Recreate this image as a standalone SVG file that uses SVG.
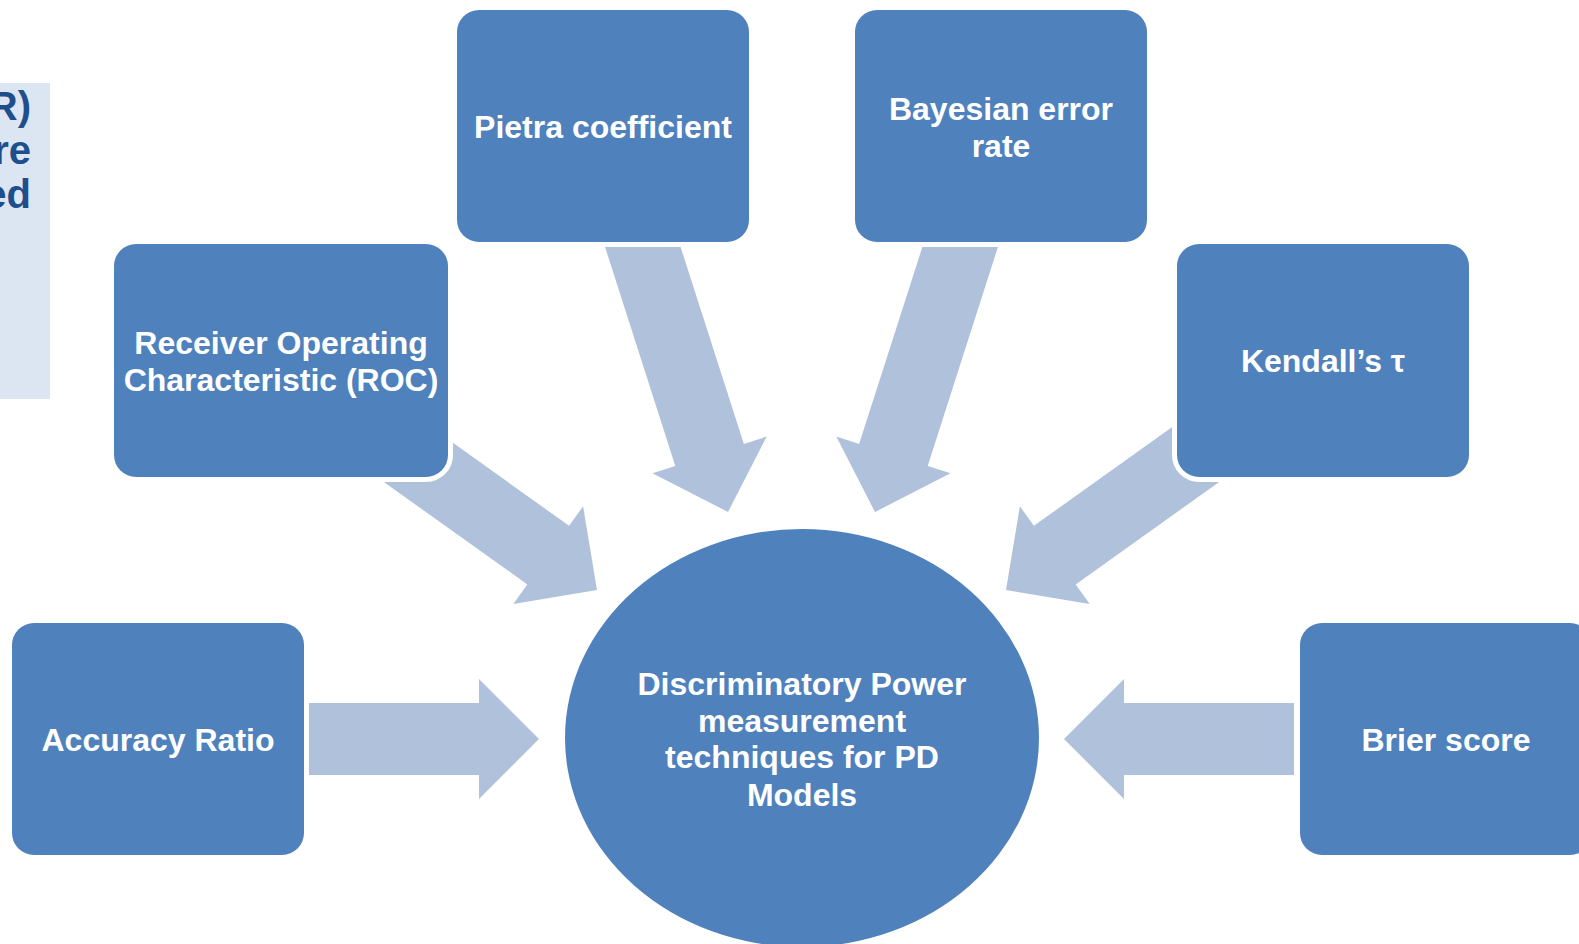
<svg xmlns="http://www.w3.org/2000/svg" width="1579" height="944" viewBox="0 0 1579 944">
<style>
.box{fill:#4F81BD;stroke:#FFFFFF;stroke-width:10;paint-order:stroke}
.lbl{font-family:"Liberation Sans",Arial,sans-serif;font-weight:bold;font-size:32px;fill:#FFFFFF;text-anchor:middle}
.arrow{fill:#B0C1DC}
.side{font-family:"Liberation Sans",Arial,sans-serif;font-weight:bold;font-size:40px;fill:#1F4E8C;text-anchor:end}
</style>
<rect width="1579" height="944" fill="#FFFFFF"/>
<g id="side-panel">
<rect x="0" y="83" width="50" height="316" fill="#DCE6F2"/>
<text class="side" x="31" y="120">R)</text>
<text class="side" x="31" y="164">re</text>
<text class="side" x="31" y="208">ed</text>
</g>
<g id="connectors">
<polygon class="arrow" points="309,703 479,703 479,679 539,739 479,799 479,775 309,775"/>
<polygon class="arrow" points="1294,703 1124,703 1124,679 1064,739 1124,799 1124,775 1294,775"/>
<polygon class="arrow" points="590,200 665.5,200 743.9,443.9 766.7,436.5 728,512 652.5,473.3 675.3,465.9"/>
<polygon class="arrow" points="1013,200 937.5,200 859.1,443.9 836.3,436.5 875,512 950.5,473.3 927.7,465.9"/>
<polygon class="arrow" points="406.3,409.6 569.1,525.8 583.1,506.3 597,590 513.3,603.9 527.3,584.4 364.5,468.2"/>
<polygon class="arrow" points="1196.7,409.6 1033.9,525.8 1019.9,506.3 1006,590 1089.7,603.9 1075.7,584.4 1238.5,468.2"/>
</g>
<g id="node-pietra">
<rect class="box" x="457" y="10" width="292" height="232" rx="22"/>
<text class="lbl" x="603" y="138">Pietra coefficient</text>
</g>
<g id="node-bayesian">
<rect class="box" x="855" y="10" width="292" height="232" rx="22"/>
<text class="lbl" x="1001" y="120">Bayesian error</text>
<text class="lbl" x="1001" y="157">rate</text>
</g>
<g id="node-roc">
<rect class="box" x="114" y="244" width="334" height="233" rx="22"/>
<text class="lbl" x="281" y="354">Receiver Operating</text>
<text class="lbl" x="281" y="391">Characteristic (ROC)</text>
</g>
<g id="node-kendall">
<rect class="box" x="1177" y="244" width="292" height="233" rx="22"/>
<text class="lbl" x="1323" y="372">Kendall’s τ</text>
</g>
<g id="node-accuracy">
<rect class="box" x="12" y="623" width="292" height="232" rx="22"/>
<text class="lbl" x="158" y="751">Accuracy Ratio</text>
</g>
<g id="node-brier">
<rect class="box" x="1300" y="623" width="292" height="232" rx="22"/>
<text class="lbl" x="1446" y="751">Brier score</text>
</g>
<g id="node-center">
<ellipse class="box" cx="802" cy="738" rx="237" ry="209"/>
<text class="lbl" x="802" y="695">Discriminatory Power</text>
<text class="lbl" x="802" y="732">measurement</text>
<text class="lbl" x="802" y="768">techniques for PD</text>
<text class="lbl" x="802" y="806">Models</text>
</g>
</svg>
